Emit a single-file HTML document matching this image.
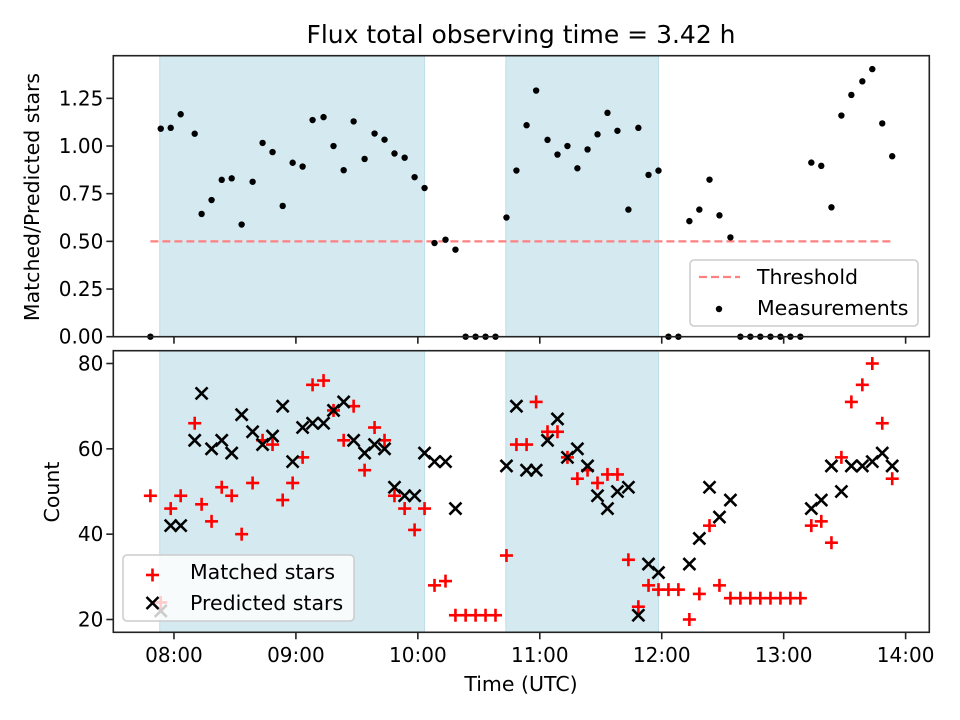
<!DOCTYPE html>
<html><head><meta charset="utf-8"><style>
html,body{margin:0;padding:0;background:#fff;}
svg{display:block;font-family:"DejaVu Sans","Liberation Sans",sans-serif;}
</style></head><body>
<svg id="chart" width="960" height="720" viewBox="0 0 960 720" xmlns="http://www.w3.org/2000/svg"></svg>
<script>
// Times in minutes after midnight (UTC)
const times = [468.4,473.5,478.4,483.3,490.2,493.6,498.5,503.5,508.4,513.3,518.7,523.6,528.5,533.5,538.4,543.3,548.2,553.6,558.5,563.5,568.4,573.8,578.7,583.6,588.5,593.5,598.4,603.3,608.2,613.6,618.5,623.5,628.4,633.3,638.2,643.6,648.5,653.5,658.2,663.8,668.7,673.6,678.5,683.5,688.4,693.3,698.2,703.6,708.5,713.5,718.4,723.3,728.2,733.6,738.5,743.5,748.4,753.8,758.7,763.6,768.5,773.5,778.4,783.3,788.2,793.6,798.5,803.5,808.4,813.3,818.7,823.6,828.5,833.4];
const matched = [49,24,46,49,66,47,43,51,49,40,52,62,61,48,52,58,75,76,69,62,70,55,65,62,49,46,41,46,28,29,21,21,21,21,21,35,61,61,71,64,64,58,53,55,52,54,54,34,23,28,27,27,27,20,26,42,28,25,25,25,25,25,25,25,25,42,43,38,58,71,75,80,66,53];
const predicted = [null,22,42,42,62,73,60,62,59,68,64,61,63,70,57,65,66,66,69,71,62,59,61,60,51,49,49,59,57,57,46,null,null,null,null,56,70,55,55,62,67,58,60,56,49,46,50,51,21,33,31,null,null,33,39,51,44,48,null,null,null,null,null,null,null,46,48,56,50,56,56,57,59,56];
const threshold = 0.5;
const spans = [[473.0,603.3],[643.3,718.4]];
const xTickMinutes = [480,540,600,660,720,780,840];
const xTickLabels = ["08:00","09:00","10:00","11:00","12:00","13:00","14:00"];
const topTicks = [0,0.25,0.5,0.75,1.0,1.25];
const botTicks = [20,40,60,80];

const NS="http://www.w3.org/2000/svg";
const svg=document.getElementById('chart');
function el(tag,attrs,parent){const e=document.createElementNS(NS,tag);for(const k in attrs)e.setAttribute(k,attrs[k]);(parent||svg).appendChild(e);return e;}

const L=113.3,R=929.3;
const T1=55.7,B1=336.7,T2=350.7,B2=632.3;
const ratios = matched.map((m,i)=> predicted[i]==null?0:m/predicted[i]);
const tmin=Math.min(...times),tmax=Math.max(...times),tpad=(tmax-tmin)*0.05;
const X0=tmin-tpad,X1=tmax+tpad;
function xs(t){return L+(t-X0)/(X1-X0)*(R-L);}
const rmax=Math.max(...ratios)*1.05;
function y1(v){return B1-(v/rmax)*(B1-T1);}
const all=matched.concat(predicted.filter(v=>v!=null));
const cmin=Math.min(...all),cmax=Math.max(...all),cpad=(cmax-cmin)*0.05;
function y2(v){return B2-(v-(cmin-cpad))/((cmax+cpad)-(cmin-cpad))*(B2-T2);}

[[T1,B1],[T2,B2]].forEach(([t,b])=>{
  spans.forEach(s=>{
    const r=el('rect',{x:xs(s[0]),y:t,width:xs(s[1])-xs(s[0]),height:b-t,fill:'rgb(212,234,240)',stroke:'rgb(190,222,232)','stroke-width':1});
    
    
  });
});

const th=el('line',{x1:xs(tmin),x2:xs(tmax),y1:y1(threshold),y2:y1(threshold),stroke:'#ff8080','stroke-width':2.2,'stroke-dasharray':'8,4'});



times.forEach((t,i)=>{
  const c=el('circle',{cx:xs(t),cy:y1(ratios[i]),r:3.2,fill:'#000'});
  
  
});

function plus(cx,cy,c){const g=el('g',{stroke:c,'stroke-width':2.6});el('line',{x1:cx-6.5,x2:cx+6.5,y1:cy,y2:cy},g);el('line',{x1:cx,x2:cx,y1:cy-6.5,y2:cy+6.5},g);return g;}
function cross(cx,cy,c){const g=el('g',{stroke:c,'stroke-width':2.6});el('line',{x1:cx-6,x2:cx+6,y1:cy-6,y2:cy+6},g);el('line',{x1:cx-6,x2:cx+6,y1:cy+6,y2:cy-6},g);return g;}

times.forEach((t,i)=>{
  const g=plus(xs(t),y2(matched[i]),'#ff0000');
  
  
});
times.forEach((t,i)=>{
  if(predicted[i]==null)return;
  const g=cross(xs(t),y2(predicted[i]),'#000');
  
  
});

[[T1,B1,'top-axes-frame'],[T2,B2,'bottom-axes-frame']].forEach(([t,b,n])=>{
  const r=el('rect',{x:L,y:t,width:R-L,height:b-t,fill:'none',stroke:'#222','stroke-width':1.6});
  
  
});

xTickMinutes.forEach((m,i)=>{
  const x=xs(m);
  el('line',{x1:x,x2:x,y1:B1,y2:B1+7,stroke:'#222','stroke-width':1.6});
  el('line',{x1:x,x2:x,y1:B2,y2:B2+7,stroke:'#222','stroke-width':1.6});
  const tx=el('text',{x:x,y:662,'text-anchor':'middle','font-size':20,fill:'#000'});
  tx.textContent=xTickLabels[i];
  
  
});
topTicks.forEach(v=>{
  const y=y1(v);
  el('line',{x1:L-7,x2:L,y1:y,y2:y,stroke:'#222','stroke-width':1.6});
  const tx=el('text',{x:L-10,y:y+7,'text-anchor':'end','font-size':20,fill:'#000'});
  tx.textContent=v.toFixed(2);
  
  
});
botTicks.forEach(v=>{
  const y=y2(v);
  el('line',{x1:L-7,x2:L,y1:y,y2:y,stroke:'#222','stroke-width':1.6});
  const tx=el('text',{x:L-10,y:y+7,'text-anchor':'end','font-size':20,fill:'#000'});
  tx.textContent=String(v);
  
  
});
</script>
<svg style="position:absolute;left:0;top:0" width="960" height="720" xmlns="http://www.w3.org/2000/svg" font-family="DejaVu Sans, Liberation Sans, sans-serif">
  <text x="521" y="43" text-anchor="middle" font-size="25">Flux total observing time = 3.42 h</text>
  <text transform="translate(39,197) rotate(-90)" text-anchor="middle" font-size="20.5">Matched/Predicted stars</text>
  <text transform="translate(59,492) rotate(-90)" text-anchor="middle" font-size="20.5">Count</text>
  <text x="521" y="691" text-anchor="middle" font-size="20.5">Time (UTC)</text>
  <g>
    <rect x="690" y="260" width="228" height="66" rx="4" fill="#fff" fill-opacity="0.8" stroke="#ccc" stroke-width="1.5"/>
    <line x1="699" y1="277" x2="740" y2="277" stroke="#ff8080" stroke-width="2.2" stroke-dasharray="8,4"/>
    <text x="757" y="284" font-size="20.5">Threshold</text>
    <circle cx="719" cy="309" r="3.2" fill="#000"/>
    <text x="757" y="315" font-size="20.5">Measurements</text>
  </g>
  <g>
    <rect x="123" y="555" width="231" height="66" rx="4" fill="#fff" fill-opacity="0.8" stroke="#ccc" stroke-width="1.5"/>
    <g stroke="#ff0000" stroke-width="2.6"><line x1="146" x2="159" y1="575" y2="575"/><line x1="152.5" x2="152.5" y1="568.5" y2="581.5"/></g>
    <text x="190" y="579" font-size="20.5">Matched stars</text>
    <g stroke="#000" stroke-width="2.6"><line x1="146.5" x2="158.5" y1="597" y2="609"/><line x1="146.5" x2="158.5" y1="609" y2="597"/></g>
    <text x="190" y="610" font-size="20.5">Predicted stars</text>
  </g>
</svg>
</body></html>
